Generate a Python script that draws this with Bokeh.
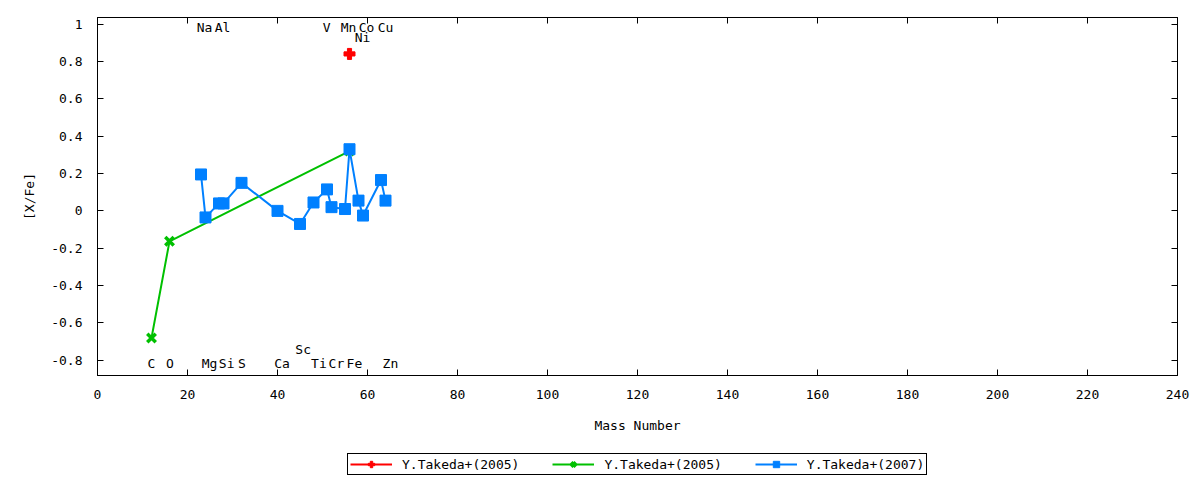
from bokeh.plotting import figure
from bokeh.layouts import column
from bokeh.models import (Range1d, FixedTicker, LinearAxis, Legend, LegendItem,
                          ColumnDataSource, CustomJSTickFormatter)
from bokeh.embed import file_html
from bokeh.resources import INLINE
from bokeh.core.properties import value

# ---- data ----
red_mass = [56]
red_xfe = [0.84]

green_mass = [12, 16, 56]
green_xfe = [-0.68, -0.163, 0.32]

blue_mass = [23, 24, 27, 28, 32, 40, 45, 48, 51, 52, 55, 56, 58, 59, 63, 64]
blue_xfe = [0.195, -0.035, 0.04, 0.04, 0.15, 0.0, -0.07, 0.045, 0.115, 0.02,
            0.01, 0.33, 0.055, -0.025, 0.165, 0.055]

elem_names = ["Na", "Al", "V", "Mn", "Co", "Cu", "Ni",
              "C", "O", "Mg", "Si", "S", "Ca", "Sc", "Ti", "Cr", "Fe", "Zn"]
elem_x = [23.8, 27.8, 50.9, 55.8, 59.8, 64.0, 58.9,
          12.0, 16.1, 24.9, 28.7, 32.1, 41.0, 45.7, 49.2, 53.1, 57.1, 65.1]
elem_y = [0.98, 0.98, 0.98, 0.98, 0.98, 0.98, 0.927,
          -0.817, -0.817, -0.817, -0.817, -0.817, -0.817, -0.742, -0.817,
          -0.817, -0.817, -0.817]

legend_labels = ["Y.Takeda+(2005)", "Y.Takeda+(2005)", "Y.Takeda+(2007)"]

x_ticks = [0, 20, 40, 60, 80, 100, 120, 140, 160, 180, 200, 220, 240]
y_ticks = [-0.8, -0.6, -0.4, -0.2, 0.0, 0.2, 0.4, 0.6, 0.8, 1.0]
y_tick_labels = ["-0.8", "-0.6", "-0.4", "-0.2", "0", "0.2", "0.4", "0.6", "0.8", "1"]

FONT = "DejaVu Sans Mono"
FS = "13px"
RED = "#ff0000"
GREEN = "#00c000"
BLUE = "#0080ff"

W, H1, H2 = 1192, 440, 36
p = figure(width=W, height=H1, x_range=Range1d(0, 240),
           y_range=Range1d(-0.881, 1.035), output_backend="svg",
           toolbar_location=None, min_border_left=97, min_border_right=W - 1177,
           min_border_top=17, min_border_bottom=H1 - 375)

p.background_fill_color = "white"
p.border_fill_color = "white"
p.outline_line_color = "black"
p.outline_line_alpha = 1
p.outline_line_width = 1
p.xgrid.grid_line_color = None
p.ygrid.grid_line_color = None

p.xaxis.ticker = FixedTicker(ticks=x_ticks)
p.yaxis.ticker = FixedTicker(ticks=y_ticks)
p.yaxis.major_label_overrides = {t: l for t, l in zip(y_ticks, y_tick_labels)}
p.xaxis.axis_label = "Mass Number"
p.yaxis.axis_label = "[X/Fe]"

for ax in (p.xaxis[0], p.yaxis[0]):
    ax.major_tick_in = 6
    ax.major_tick_out = 0
    ax.minor_tick_line_color = None
    ax.axis_line_color = "black"
    ax.major_tick_line_color = "black"
    ax.major_label_text_font = FONT
    ax.major_label_text_font_size = FS
    ax.major_label_text_color = "black"
    ax.axis_label_text_font = FONT
    ax.axis_label_text_font_size = FS
    ax.axis_label_text_font_style = "normal"
    ax.axis_label_text_color = "black"

p.xaxis.major_label_standoff = 14
p.xaxis.axis_label_standoff = 16
p.yaxis.major_label_standoff = 15
p.yaxis.axis_label_standoff = 11

# mirrored ticks on top and right
for loc, ticks in (("above", x_ticks), ("right", y_ticks)):
    ax = LinearAxis(ticker=FixedTicker(ticks=ticks),
                    formatter=CustomJSTickFormatter(code="return ''"),
                    major_tick_in=6, major_tick_out=0,
                    minor_tick_line_color=None, axis_line_color="black",
                    major_label_standoff=0)
    p.add_layout(ax, loc)

# element labels
lab_src = ColumnDataSource(dict(x=elem_x, y=elem_y, t=elem_names))
p.text(x="x", y="y", text="t", source=lab_src, text_font=value(FONT),
       text_font_size=FS, text_align="center", text_baseline="middle",
       text_color="black")

# series (plot order as in the reference)
def draw(fig):
    r_line = fig.line(red_mass, red_xfe, line_color=RED, line_width=2)
    r_pts = fig.scatter(red_mass, red_xfe, marker="plus", size=11, color=RED)
    g_line = fig.line(green_mass, green_xfe, line_color=GREEN, line_width=2)
    g_pts = fig.scatter(green_mass, green_xfe, marker="x", size=12,
                        line_color=GREEN, line_width=3.5)
    b_line = fig.line(blue_mass, blue_xfe, line_color=BLUE, line_width=2)
    b_pts = fig.scatter(blue_mass, blue_xfe, marker="square", size=11, color=BLUE)
    return [(r_line, r_pts), (g_line, g_pts), (b_line, b_pts)]

draw(p)

# legend strip below the chart; its view range holds none of the data,
# so only the legend samples show
q = figure(width=W, height=H2, x_range=Range1d(-2, -1), y_range=Range1d(-2, -1),
           output_backend="svg", toolbar_location=None, x_axis_type=None,
           y_axis_type=None, min_border_left=97, min_border_right=W - 1177,
           min_border_top=0, min_border_bottom=0)
q.outline_line_color = None
q.background_fill_color = "white"
q.border_fill_color = "white"
q.xgrid.grid_line_color = None
q.ygrid.grid_line_color = None
pairs = draw(q)

legend = Legend(items=[
    LegendItem(label=legend_labels[i], renderers=list(pairs[i])) for i in range(3)
], orientation="horizontal", location=(250, 1))
legend.label_text_font = FONT
legend.label_text_font_size = FS
legend.label_text_color = "black"
legend.border_line_color = "black"
legend.border_line_width = 1
legend.border_line_alpha = 1
legend.background_fill_color = "white"
legend.background_fill_alpha = 1
legend.padding = 2
legend.spacing = 33
legend.margin = 0
legend.glyph_width = 42
legend.glyph_height = 16
legend.label_standoff = 10
legend.label_height = 16
q.add_layout(legend, "center")

open("out.html", "w").write(file_html(column(p, q, spacing=0), INLINE))
